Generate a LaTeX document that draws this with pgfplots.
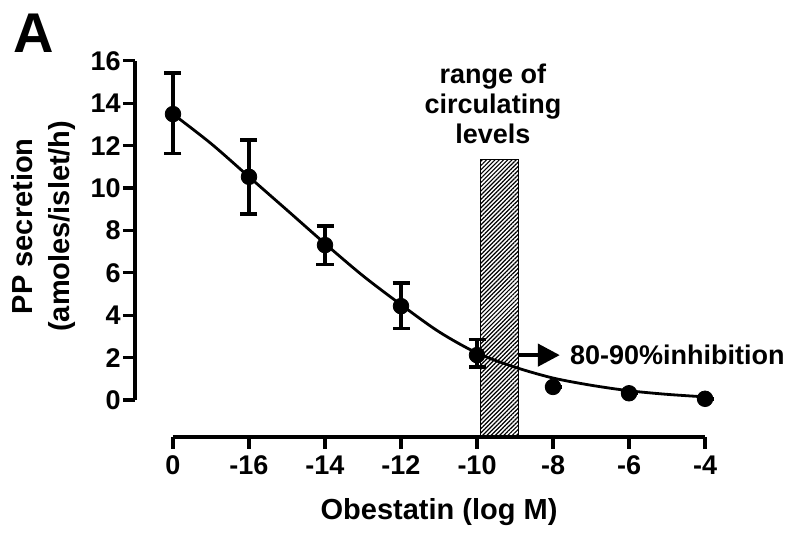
\documentclass[border=0pt]{standalone}
\usepackage{fontspec}
\setmainfont{Liberation Sans}
\usepackage{pgfplots}
\usepackage{pgfplotstable}
\pgfplotsset{compat=1.18}
\usetikzlibrary{patterns.meta,arrows.meta}

% x position, mean, upper and lower error
\pgfplotstableread{
x y up down
0 13.49 1.93 1.86
1 10.53 1.73 1.76
2 7.31 0.91 0.91
3 4.43 1.10 1.05
4 2.12 0.74 0.55
5 0.62 0 0
6 0.32 0 0
7 0.06 0 0
}\obsdata

\begin{document}
\begin{tikzpicture}
\begin{axis}[
    x=38pt, y=10.6pt,
    xmin=-0.5, xmax=7, ymin=-1.74, ymax=16,
    axis x line*=bottom, axis y line*=left,
    x axis line style={line width=1.6pt, shorten <=19pt},
    y axis line style={line width=1.6pt, shorten <=18.44pt},
    xtick={0,...,7},
    xticklabels={0,-16,-14,-12,-10,-8,-6,-4},
    ytick={0,2,...,16},
    tick align=outside,
    major tick length=6pt,
    tick style={line width=1.6pt, black},
    tick label style={font=\bfseries\fontsize{13.5}{15}\selectfont},
    yticklabel style={inner xsep=1pt},
    /pgf/number format/assume math mode=true,
    clip=false,
]
% shaded band: range of circulating levels
\addplot[draw=black, line width=0.5pt,
    pattern={Lines[angle=45, distance=1.5pt, line width=0.6pt]}]
    coordinates {(4.05,-1.74) (4.55,-1.74) (4.55,11.34) (4.05,11.34)} -- cycle;
% fitted curve
\addplot[smooth, line width=1.4pt, black] coordinates {
    (0,13.49) (0.5,12.1) (1,10.53) (1.5,8.96) (2,7.38) (2.5,5.86)
    (3,4.5) (3.5,3.22) (4,2.22) (4.5,1.55) (5,1.04) (5.5,0.7)
    (6,0.44) (6.5,0.27) (7,0.15)};
% means with error bars
\addplot[only marks, mark=*, mark size=3.9pt, black,
    error bars/.cd, y dir=both, y explicit,
    error bar style={line width=1.8pt},
    error mark options={rotate=90, mark size=4.25pt, line width=1.8pt}]
    table[x=x, y=y, y error plus=up, y error minus=down] {\obsdata};

\node[font=\bfseries\fontsize{28}{30}\selectfont] at (axis cs:-1.83,17.31) {A};
\node[rotate=90, align=center, font=\bfseries\fontsize{14.5}{18.5}\selectfont]
    at (axis cs:-1.70,8.2) {PP secretion\\(amoles/islet/h)};
\node[font=\bfseries\fontsize{14.5}{17}\selectfont] at (axis cs:3.5,-5.28) {Obestatin (log M)};
\node[align=center, font=\bfseries\fontsize{13.5}{15}\selectfont]
    at (axis cs:4.21,13.96) {range of\\circulating\\levels};
\draw[line width=2.2pt, -{Triangle[length=11pt, width=11pt]}]
    (axis cs:4.55,2.12) -- (axis cs:5.09,2.12);
\node[anchor=west, inner sep=0pt, font=\bfseries\fontsize{13.5}{15}\selectfont]
    at (axis cs:5.22,2.12) {80-90\%inhibition};

\coordinate (bl) at (axis cs:-2.276,-6.415);
\coordinate (tr) at (axis cs:8.118,18.87);
\end{axis}
\pgfresetboundingbox
\path[use as bounding box] (bl) rectangle (tr);
\end{tikzpicture}
\end{document}
